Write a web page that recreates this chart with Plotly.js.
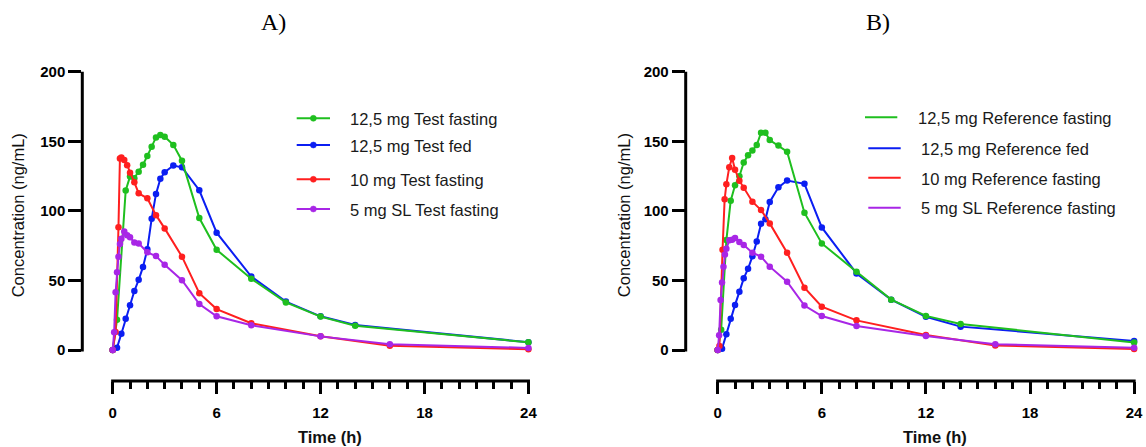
<!DOCTYPE html>
<html>
<head>
<meta charset="utf-8">
<script src="https://cdn.plot.ly/plotly-3.0.1.min.js"></script>
<style>html,body{margin:0;padding:0;background:#fff;}#chart{width:1146px;height:447px;}</style>
</head>
<body>
<div id="chart"></div>
<script>
// ---------- DATA ----------
const panelTitles = ["A)", "B)"];
const xTitle = "Time (h)";
const yTitle = "Concentration (ng/mL)";
const xTickVals = [0, 6, 12, 18, 24];
const xTickText = ["0", "6", "12", "18", "24"];
const xMinorVals = [1, 2, 3, 4, 5, 7, 8, 9, 10, 11, 13, 14, 15, 16, 17, 19, 20, 21, 22, 23];
const yTickVals = [0, 50, 100, 150, 200];
const yTickText = ["0", "50", "100", "150", "200"];

const namesA = ["12,5 mg Test fasting", "12,5 mg Test fed", "10 mg Test fasting", "5 mg SL Test fasting"];
const namesB = ["12,5 mg Reference fasting", "12,5 mg Reference fed", "10 mg Reference fasting", "5 mg SL Reference fasting"];

// Panel A
const tGreenA = [0, 0.25, 0.75, 1, 1.25, 1.5, 1.75, 2, 2.25, 2.5, 2.75, 3, 3.5, 4, 5, 6, 8, 10, 12, 14, 24];
const cGreenA = [0, 21.8, 114.7, 124.6, 123.5, 128.1, 133.1, 139.5, 146.1, 152.8, 154.5, 153.3, 147.4, 136.0, 94.8, 72.0, 51.2, 34.2, 24.0, 17.4, 5.5];
const tBlueA = [0, 0.25, 0.5, 0.75, 1, 1.25, 1.5, 1.75, 2, 2.25, 2.5, 2.75, 3, 3.5, 4, 5, 6, 8, 10, 12, 14, 24];
const cBlueA = [0, 1.7, 11.7, 22.5, 32.1, 42.4, 50.4, 59.7, 72.4, 94.4, 112.2, 123.0, 127.7, 132.6, 131.3, 114.8, 84.3, 52.8, 34.8, 24.2, 18.0, 5.6];
const tRedA = [0, 0.167, 0.333, 0.417, 0.5, 0.667, 0.833, 1, 1.25, 1.5, 2, 2.5, 3, 4, 5, 6, 8, 12, 16, 24];
const cRedA = [0, 12.9, 88.2, 137.6, 138.3, 136.5, 132.8, 127.3, 120.5, 112.6, 109.0, 96.9, 87.4, 67.1, 40.8, 29.4, 19.2, 9.9, 3.1, 0.6];
const tPurpleA = [0, 0.083, 0.167, 0.25, 0.333, 0.417, 0.5, 0.667, 0.833, 1, 1.25, 1.5, 2, 2.5, 3, 4, 5, 6, 8, 12, 16, 24];
const cPurpleA = [0, 12.7, 41.5, 55.9, 67.1, 76.2, 79.9, 85.1, 82.4, 81.0, 77.3, 76.6, 70.2, 67.5, 61.2, 50.2, 33.0, 24.2, 17.8, 9.8, 4.2, 1.5];

// Panel B
const tGreenB = [0, 0.2, 0.5, 0.75, 1, 1.25, 1.5, 1.75, 2, 2.25, 2.5, 2.75, 3, 3.5, 4, 5, 6, 8, 10, 12, 14, 24];
const cGreenB = [0, 14.6, 79.0, 107.3, 118.4, 124.9, 134.7, 140.0, 143.3, 147.3, 156.2, 156.2, 150.9, 147.0, 142.5, 98.7, 76.6, 56.2, 36.2, 24.5, 18.7, 5.4];
const tBlueB = [0, 0.25, 0.5, 0.75, 1, 1.25, 1.5, 1.75, 2, 2.25, 2.5, 2.75, 3, 3.5, 4, 5, 6, 8, 10, 12, 14, 24];
const cBlueB = [0, 0.9, 11.4, 22.4, 32.4, 41.8, 51.5, 58.4, 67.3, 78.0, 90.8, 93.9, 106.4, 116.9, 121.8, 119.4, 88.1, 55.0, 36.2, 23.9, 16.8, 6.5];
const tRedB = [0, 0.1, 0.28, 0.4, 0.5, 0.667, 0.833, 1, 1.25, 1.5, 2, 2.5, 3, 4, 5, 6, 8, 12, 16, 24];
const cRedB = [0, 2.9, 72.0, 108.3, 119.1, 131.4, 138.0, 129.5, 121.7, 116.6, 106.6, 100.6, 91.0, 69.9, 44.8, 31.1, 21.3, 10.8, 3.3, 0.7];
const tPurpleB = [0, 0.083, 0.167, 0.25, 0.333, 0.417, 0.5, 0.667, 0.833, 1, 1.25, 1.5, 2, 2.5, 3, 4, 5, 6, 8, 12, 16, 24];
const cPurpleB = [0, 10.6, 35.9, 48.5, 59.9, 68.6, 72.7, 78.9, 79.2, 80.5, 77.6, 75.4, 69.9, 67.1, 59.9, 49.1, 31.9, 24.4, 17.2, 10.0, 4.1, 1.7];

// ---------- STYLE ----------
const colors = ["#1fbf1f", "#0b1ef2", "#ff1f1f", "#a826e6"]; // green, blue, red, purple
const W = 1146, H = 447;
const px = v => v / W;
const py = v => 1 - v / H;
const FONT = "Arial, 'Liberation Sans', sans-serif";

const seriesA = [[tGreenA, cGreenA], [tBlueA, cBlueA], [tRedA, cRedA], [tPurpleA, cPurpleA]];
const seriesB = [[tGreenB, cGreenB], [tBlueB, cBlueB], [tRedB, cRedB], [tPurpleB, cPurpleB]];
const drawOrder = [1, 0, 2, 3];

const traces = [];
function addPanel(series, names, xa, ya) {
  drawOrder.forEach(i => {
    traces.push({
      type: "scatter", mode: "lines+markers",
      x: series[i][0], y: series[i][1], name: names[i],
      xaxis: xa, yaxis: ya, showlegend: false, cliponaxis: false,
      line: {color: colors[i], width: 2},
      marker: {color: colors[i], size: 6.5, symbol: "circle"}
    });
  });
}
addPanel(seriesA, namesA, "x", "y");
addPanel(seriesB, namesB, "x2", "y2");

const yDom = [py(381), py(71.7)];
function xAxis(domain, range) {
  return {
    domain: domain, range: range, showgrid: false, zeroline: false, showline: false,
    tickmode: "array", tickvals: xTickVals, ticktext: xTickText,
    ticks: "outside", ticklen: 12, tickwidth: 3, tickcolor: "#000",
    ticklabelstandoff: 6,
    tickfont: {family: FONT, size: 15, weight: "bold", color: "#000"},
    minor: {tickmode: "array", tickvals: xMinorVals, ticks: "outside", ticklen: 7, tickwidth: 3, tickcolor: "#000", showgrid: false},
    fixedrange: true
  };
}
function yAxis(anchor) {
  return {
    domain: yDom, range: [-22.275, 200], anchor: anchor, showgrid: false, zeroline: false, showline: false,
    tickmode: "array", tickvals: yTickVals, ticktext: yTickText,
    ticks: "outside", ticklen: 13, tickwidth: 3, tickcolor: "#000",
    tickfont: {family: FONT, size: 15, weight: "bold", color: "#000"},
    fixedrange: true
  };
}

const shapes = [];
const annotations = [];
function axisLines(xref, yref, yAxisPx) {
  shapes.push({type: "line", xref: "paper", yref: yref, x0: px(yAxisPx), x1: px(yAxisPx), y0: -1.1, y1: 201.1, line: {color: "#000", width: 3}});
  shapes.push({type: "line", xref: xref, yref: "paper", x0: -0.09, x1: 24.09, y0: py(381), y1: py(381), line: {color: "#000", width: 3}});
}
axisLines("x", "y", 82.3);
axisLines("x2", "y2", 685.7);

function legend(names, rowsY, lineX, textX, withMarkers) {
  names.forEach((n, i) => {
    const y = rowsY[i];
    const [x0, x1] = lineX[i];
    shapes.push({type: "line", xref: "paper", yref: "paper", x0: px(x0), x1: px(x1), y0: py(y), y1: py(y), line: {color: colors[i], width: 2}});
    if (withMarkers) {
      const cx = (x0 + x1) / 2;
      shapes.push({type: "circle", xref: "paper", yref: "paper", xsizemode: "pixel", ysizemode: "pixel",
        xanchor: px(cx), yanchor: py(y), x0: -3, x1: 3, y0: -3, y1: 3,
        fillcolor: colors[i], line: {color: colors[i], width: 0.5}});
    }
    annotations.push({xref: "paper", yref: "paper", x: px(textX[i]), y: py(y + 0.8), xanchor: "left", yanchor: "middle",
      text: n, showarrow: false, font: {family: FONT, size: 16.5, color: "#1a1a1a"}});
  });
}
legend(namesA, [118.3, 145, 179.3, 209], [[296.7, 330], [296.7, 330], [296.7, 330], [296.7, 330]], [348, 348, 348, 348], true);
legend(namesB, [117.3, 148.3, 177.7, 207.7], [[865, 897.3], [868.3, 900.7], [868.3, 900.7], [868.3, 900.7]], [915.5, 919, 919, 919], false);

// Panel titles
annotations.push({xref: "paper", yref: "paper", x: px(273), y: py(22), xanchor: "center", yanchor: "middle", showarrow: false,
  text: panelTitles[0], font: {family: "'Liberation Serif', 'Times New Roman', serif", size: 24, color: "#000"}});
annotations.push({xref: "paper", yref: "paper", x: px(878), y: py(22), xanchor: "center", yanchor: "middle", showarrow: false,
  text: panelTitles[1], font: {family: "'Liberation Serif', 'Times New Roman', serif", size: 24, color: "#000"}});
// Axis titles
[[18.3, 330], [624.2, 934.5]].forEach(([yx, xx]) => {
  annotations.push({xref: "paper", yref: "paper", x: px(yx), y: py(215), xanchor: "center", yanchor: "middle", showarrow: false,
    textangle: -90, text: yTitle, font: {family: FONT, size: 16.5, color: "#111"}});
  annotations.push({xref: "paper", yref: "paper", x: px(xx), y: py(446.5), xanchor: "center", yanchor: "bottom", showarrow: false,
    borderpad: 0, text: xTitle, font: {family: FONT, size: 16.5, weight: "bold", color: "#111"}});
});

const layout = {
  width: W, height: H,
  margin: {l: 0, r: 0, t: 0, b: 0, autoexpand: false},
  paper_bgcolor: "#fff", plot_bgcolor: "rgba(0,0,0,0)",
  showlegend: false,
  xaxis: Object.assign(xAxis([px(82.3), px(538.8)], [-1.755, 24.6]), {anchor: "y"}),
  yaxis: yAxis("x"),
  xaxis2: Object.assign(xAxis([px(685.7), px(1142)], [-1.844, 24.455]), {anchor: "y2"}),
  yaxis2: yAxis("x2"),
  shapes: shapes,
  annotations: annotations
};

Plotly.newPlot("chart", traces, layout, {displayModeBar: false, staticPlot: true});
</script>
</body>
</html>
